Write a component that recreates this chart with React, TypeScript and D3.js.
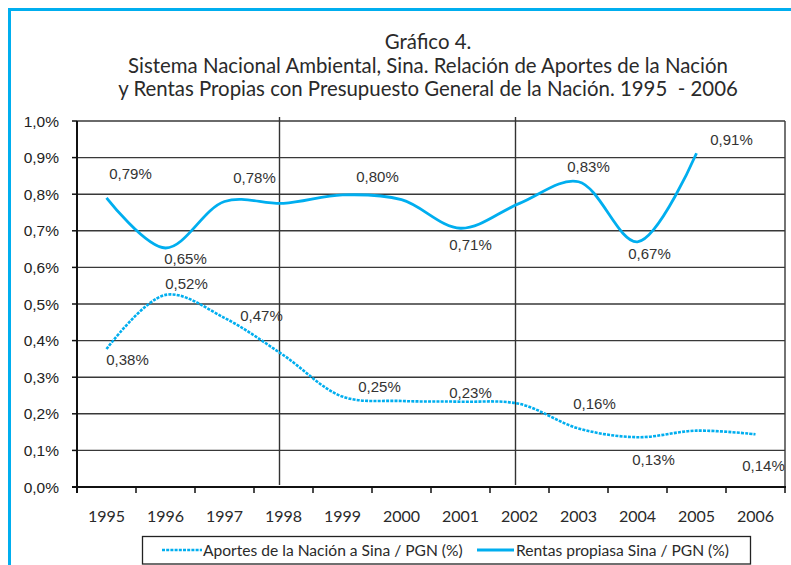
import React, { useEffect, useRef } from 'react';
import * as d3 from 'd3';

const years = ['1995', '1996', '1997', '1998', '1999', '2000', '2001', '2002', '2003', '2004', '2005', '2006'];
// % of PGN
const aportes = [0.377, 0.525, 0.462, 0.36, 0.247, 0.235, 0.233, 0.227, 0.16, 0.136, 0.154, 0.144];
const rentas = [0.79, 0.653, 0.78, 0.775, 0.798, 0.785, 0.707, 0.775, 0.834, 0.67, 0.912];
const aportesLabels = ['0,38%', '0,52%', '0,47%', '', '0,25%', '', '0,23%', '', '0,16%', '0,13%', '', '0,14%'];
const rentasLabels = ['0,79%', '0,65%', '0,78%', '', '0,80%', '', '0,71%', '', '0,83%', '0,67%', '0,91%'];
const yTicks = [0, 0.1, 0.2, 0.3, 0.4, 0.5, 0.6, 0.7, 0.8, 0.9, 1.0];
const markerYears = ['1998', '2002'];
const titleLines = [
  'Gráfico 4.',
  'Sistema Nacional Ambiental, Sina. Relación de Aportes de la Nación',
  'y Rentas Propias con Presupuesto General de la Nación. 1995  - 2006',
];
const legendItems = ['Aportes de la Nación a Sina / PGN (%)', 'Rentas propiasa Sina / PGN (%)'];

const W = 791;
const H = 565;
const CYAN = '#00aeef';
const GRID = '#383838';

// label nudges (px) relative to the point
const rentasOffsets: [number, number][] = [[24, -24], [20, 11], [30, -24], [0, 0], [35, -18], [0, 0], [10, 16], [0, 0], [10, -15], [12, 12], [35, -14]];
const aportesOffsets: [number, number][] = [[21, 11], [21, -11], [37, -2], [0, 0], [37, -10], [0, 0], [10, -9], [0, 0], [16, -25], [16, 22], [0, 0], [8, 31]];

const App: React.FC = () => {
  const svgRef = useRef<SVGSVGElement>(null);

  useEffect(() => {
    if (!svgRef.current) return;
    const svg = d3.select(svgRef.current);
    svg.selectAll('*').remove();

    const left = 77, right = 785, top = 121, bottom = 487;
    const x = d3.scaleBand<string>().domain(years).range([left, right]);
    const y = d3.scaleLinear().domain([0, 1]).range([bottom, top]);
    const cx = (d: string) => (x(d) ?? 0) + x.bandwidth() / 2;

    svg.append('rect').attr('width', W).attr('height', H).attr('fill', '#fff');

    // outer frame (cut off at right and bottom)
    svg.append('path')
      .attr('d', `M9.5,${H + 5}V9.5H${W + 5}`)
      .attr('fill', 'none').attr('stroke', CYAN).attr('stroke-width', 3);

    // title
    const title = svg.append('g').attr('font-family', 'Lato, "Open Sans", sans-serif').attr('fill', '#2a2a2a').attr('text-anchor', 'middle');
    title.selectAll('text').data(titleLines).enter().append('text')
      .attr('x', 428)
      .attr('y', (d, i) => 49 + i * 23.5)
      .attr('font-size', 20.4)
      .style('white-space', 'pre')
      .text(d => d);

    // gridlines
    svg.append('g').selectAll('line').data(yTicks.slice(1)).enter().append('line')
      .attr('x1', left).attr('x2', right)
      .attr('y1', d => y(d)).attr('y2', d => y(d))
      .attr('stroke', GRID).attr('stroke-width', 1.4);

    // right border of plot area
    svg.append('line').attr('x1', right).attr('x2', right).attr('y1', top).attr('y2', bottom)
      .attr('stroke', GRID).attr('stroke-width', 1.4);

    // vertical markers
    svg.append('g').selectAll('line').data(markerYears).enter().append('line')
      .attr('x1', d => cx(d) - 4).attr('x2', d => cx(d) - 4)
      .attr('y1', top - 4).attr('y2', bottom - 2)
      .attr('stroke', '#333').attr('stroke-width', 1.4);

    // axes
    svg.append('line').attr('x1', left).attr('x2', left).attr('y1', top).attr('y2', bottom + 6)
      .attr('stroke', '#111').attr('stroke-width', 2);
    svg.append('line').attr('x1', left - 5).attr('x2', right + 1).attr('y1', bottom).attr('y2', bottom)
      .attr('stroke', '#111').attr('stroke-width', 2);

    const yAxis = svg.append('g');
    yAxis.selectAll('line').data(yTicks).enter().append('line')
      .attr('x1', left - 5).attr('x2', left)
      .attr('y1', d => y(d)).attr('y2', d => y(d))
      .attr('stroke', '#111').attr('stroke-width', 1.5);
    yAxis.selectAll('text').data(yTicks).enter().append('text')
      .attr('x', 59).attr('y', d => y(d)).attr('dy', '0.36em')
      .attr('text-anchor', 'end')
      .attr('font-family', '"Liberation Sans", Arial, sans-serif').attr('font-size', 15.5).attr('fill', '#222')
      .text(d => d3.format('.1f')(d).replace('.', ',') + '%');

    const xAxis = svg.append('g');
    xAxis.selectAll('line').data(years.concat(['end'])).enter().append('line')
      .attr('x1', (d, i) => left + i * x.bandwidth()).attr('x2', (d, i) => left + i * x.bandwidth())
      .attr('y1', bottom).attr('y2', bottom + 6)
      .attr('stroke', '#111').attr('stroke-width', 1.5);
    xAxis.selectAll('text').data(years).enter().append('text')
      .attr('x', d => cx(d)).attr('y', 522)
      .attr('text-anchor', 'middle')
      .attr('font-family', 'Lato, "Open Sans", sans-serif').attr('font-size', 16).attr('fill', '#2a2a2a')
      .text(d => d);

    // series
    const line = d3.line<number>()
      .x((d, i) => cx(years[i]))
      .y(d => y(d))
      .curve(d3.curveCatmullRom.alpha(0.5));

    svg.append('path').datum(aportes).attr('d', line)
      .attr('fill', 'none').attr('stroke', CYAN).attr('stroke-width', 2.6)
      .attr('stroke-dasharray', '3,1.2');
    svg.append('path').datum(rentas).attr('d', line)
      .attr('fill', 'none').attr('stroke', CYAN).attr('stroke-width', 2.8);

    // data labels
    const labels = svg.append('g')
      .attr('font-family', '"Liberation Sans", Arial, sans-serif').attr('font-size', 15).attr('fill', '#333')
      .attr('text-anchor', 'middle');
    rentas.forEach((v, i) => {
      if (!rentasLabels[i]) return;
      labels.append('text')
        .attr('x', cx(years[i]) + rentasOffsets[i][0])
        .attr('y', y(v) + rentasOffsets[i][1]).attr('dy', '0.36em')
        .text(rentasLabels[i]);
    });
    aportes.forEach((v, i) => {
      if (!aportesLabels[i]) return;
      labels.append('text')
        .attr('x', cx(years[i]) + aportesOffsets[i][0])
        .attr('y', y(v) + aportesOffsets[i][1]).attr('dy', '0.36em')
        .text(aportesLabels[i]);
    });

    // legend
    const lg = svg.append('g');
    lg.append('rect').attr('x', 142.5).attr('y', 536.5).attr('width', 608).attr('height', 27.5)
      .attr('fill', '#fff').attr('stroke', '#222').attr('stroke-width', 1.3);
    const ly = 550;
    lg.append('line').attr('x1', 162).attr('x2', 202).attr('y1', ly).attr('y2', ly)
      .attr('stroke', CYAN).attr('stroke-width', 2.6).attr('stroke-dasharray', '3,1.2');
    lg.append('line').attr('x1', 477).attr('x2', 514).attr('y1', ly).attr('y2', ly)
      .attr('stroke', CYAN).attr('stroke-width', 2.8);
    lg.selectAll('text').data(legendItems).enter().append('text')
      .attr('x', (d, i) => (i === 0 ? 203 : 516)).attr('y', ly).attr('dy', '0.36em')
      .attr('font-family', 'Lato, "Open Sans", sans-serif').attr('font-size', 15.6).attr('fill', '#2a2a2a')
      .text(d => d);
  }, []);

  return (
    <svg ref={svgRef} width={W} height={H} style={{ position: 'absolute', left: 0, top: 0 }} />
  );
};

export default App;
